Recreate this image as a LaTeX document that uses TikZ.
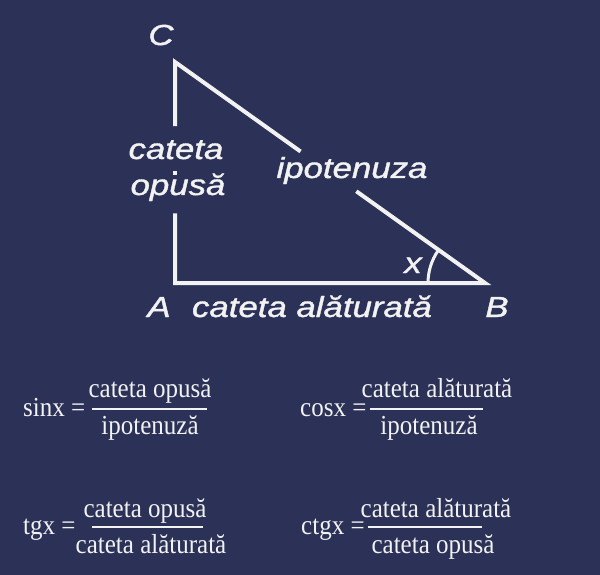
\documentclass[tikz,border=0pt]{standalone}
\usepackage{fontspec}
\setmainfont{Liberation Serif}
\newfontfamily\labelfont{Liberation Sans}
\usetikzlibrary{calc}
\definecolor{bg}{HTML}{2B3157}
\definecolor{fg}{HTML}{F2F2F2}
\newcommand\widetxt[1]{\scalebox{1.2}[1]{#1}}
\newcommand\talltxt[1]{\scalebox{1}[1.1]{#1}}
\begin{document}
\begin{tikzpicture}[x=1pt,y=-1pt,
 lbl/.style={text=fg,font=\labelfont\itshape\fontsize{29}{29}\selectfont\addfontfeature{FakeBold=1.2},inner sep=0pt,anchor=base},
 frm/.style={text=fg,font=\fontsize{25}{25}\selectfont,inner sep=0pt,anchor=base},
 side/.style={draw=fg,line width=4pt,line join=miter,line cap=butt},
 bar/.style={draw=fg,line width=1.3pt}]
\fill[bg] (0,0) rectangle (600,575);
\useasboundingbox (0,0) rectangle (600,575);
% triangle
\coordinate (A) at (175,283);
\coordinate (B) at (485,283);
\coordinate (C) at (175,62);
\coordinate (v1) at ($(C)!0.29!(A)$);
\coordinate (v2) at ($(C)!0.495!(A)$);
\coordinate (v3) at ($(C)!0.51!(A)$);
\coordinate (v4) at ($(C)!0.685!(A)$);
\coordinate (h1) at ($(C)!0.405!(B)$);
\coordinate (h2) at ($(C)!0.585!(B)$);
\draw[side] (v1) -- (C) -- (h1);
\draw[side] (h2) -- (B) -- (A) -- (v4);
\draw[side] (v2) -- (v3);
\draw[draw=fg,line width=3pt] (B) ++(180:57) arc[start angle=180,end angle=214.5,radius=57];
% labels
\node[lbl] (lC) at (161,45) {\widetxt{C}};
\node[lbl] (lA) at (159,317) {\widetxt{A}};
\node[lbl] (lB) at (497,317) {\widetxt{B}};
\node[lbl] (lx) at (413,273) {\widetxt{x}};
\node[lbl] (co1) at (176,159) {\widetxt{cateta}};
\node[lbl] (co2) at (178,195) {\widetxt{opusă}};
\node[lbl] (ip) at (352,178) {\widetxt{ipotenuza}};
\node[lbl] (ca) at (312,317) {\widetxt{cateta alăturată}};
% formulas
\node[frm,anchor=base west] (sin) at (23,416) {\talltxt{sinx =}};
\node[frm] (sinN) at (150,397) {\talltxt{cateta opusă}};
\node[frm] (sinD) at (150,434) {\talltxt{ipotenuză}};
\coordinate (sinL) at (92,409); \coordinate (sinR) at (207,409);
\draw[bar] (sinL) -- (sinR);
\node[frm,anchor=base west] (cos) at (300,416) {\talltxt{cosx =}};
\node[frm] (cosN) at (437,397) {\talltxt{cateta alăturată}};
\node[frm] (cosD) at (429,434) {\talltxt{ipotenuză}};
\coordinate (cosL) at (370,409); \coordinate (cosR) at (483,409);
\draw[bar] (cosL) -- (cosR);
\node[frm,anchor=base west] (tg) at (23,534) {\talltxt{tgx =}};
\node[frm] (tgN) at (145,517) {\talltxt{cateta opusă}};
\node[frm] (tgD) at (151,553) {\talltxt{cateta alăturată}};
\coordinate (tgL) at (92,527); \coordinate (tgR) at (203,527);
\draw[bar] (tgL) -- (tgR);
\node[frm,anchor=base west] (ctg) at (301,534) {\talltxt{ctgx =}};
\node[frm] (ctgN) at (436,517) {\talltxt{cateta alăturată}};
\node[frm] (ctgD) at (433,553) {\talltxt{cateta opusă}};
\coordinate (ctgL) at (368,527); \coordinate (ctgR) at (482,527);
\draw[bar] (ctgL) -- (ctgR);
\end{tikzpicture}
\end{document}
